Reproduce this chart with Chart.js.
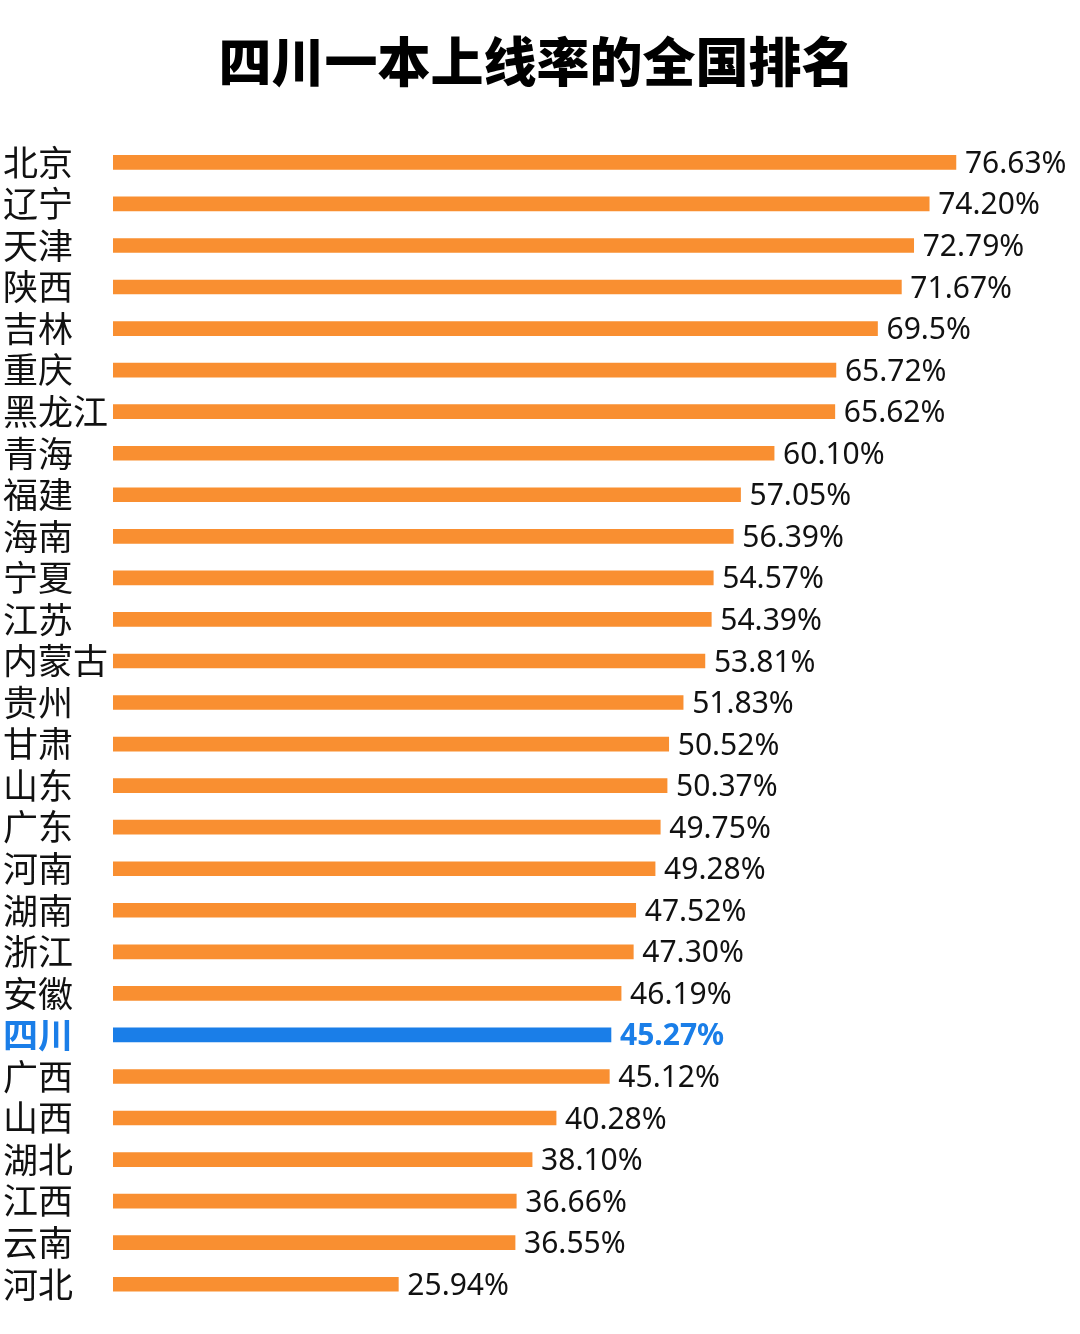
<!DOCTYPE html>
<html>
<head>
<meta charset="utf-8">
<script src="https://cdn.jsdelivr.net/npm/chart.js@4/dist/chart.umd.min.js"></script>
<style>
  html, body { margin: 0; padding: 0; background: #fff; }
  #wrap { width: 1080px; height: 1334px; position: relative; }
</style>
</head>
<body>
<div id="wrap"><canvas id="chart"></canvas></div>
<script>
// ===== dados =====
const provinces = ["北京", "辽宁", "天津", "陕西", "吉林", "重庆", "黑龙江", "青海", "福建", "海南",
  "宁夏", "江苏", "内蒙古", "贵州", "甘肃", "山东", "广东", "河南", "湖南", "浙江",
  "安徽", "四川", "广西", "山西", "湖北", "江西", "云南", "河北"];
const rates = [76.63, 74.20, 72.79, 71.67, 69.5, 65.72, 65.62, 60.10, 57.05, 56.39,
  54.57, 54.39, 53.81, 51.83, 50.52, 50.37, 49.75, 49.28, 47.52, 47.30,
  46.19, 45.27, 45.12, 40.28, 38.10, 36.66, 36.55, 25.94];
const rateLabels = ["76.63%", "74.20%", "72.79%", "71.67%", "69.5%", "65.72%", "65.62%", "60.10%", "57.05%", "56.39%",
  "54.57%", "54.39%", "53.81%", "51.83%", "50.52%", "50.37%", "49.75%", "49.28%", "47.52%", "47.30%",
  "46.19%", "45.27%", "45.12%", "40.28%", "38.10%", "36.66%", "36.55%", "25.94%"];
const highlight = "四川";

const ORANGE = "#F98F31";
const BLUE = "#1A7EE8";
const isHi = (i) => provinces[i] === highlight;

// rótulos de valor no fim de cada barra
const valueLabels = {
  id: "valueLabels",
  afterDatasetsDraw(chart) {
    const ctx = chart.ctx;
    const meta = chart.getDatasetMeta(0);
    ctx.save();
    ctx.textBaseline = "middle";
    ctx.textAlign = "left";
    meta.data.forEach((bar, i) => {
      ctx.fillStyle = isHi(i) ? BLUE : "#111";
      ctx.font = (isHi(i) ? "bold " : "") + "30px 'Noto Sans', sans-serif";
      ctx.fillText(rateLabels[i], bar.x + 9, bar.y + 2);
    });
    ctx.restore();
  }
};

new Chart(document.getElementById("chart"), {
  type: "bar",
  data: {
    labels: provinces,
    datasets: [{
      data: rates,
      backgroundColor: provinces.map((p, i) => isHi(i) ? BLUE : ORANGE),
      barThickness: 14,
      borderWidth: 0
    }]
  },
  options: {
    indexAxis: "y",
    responsive: true,
    maintainAspectRatio: false,
    animation: false,
    layout: { padding: { left: 3, right: 10, top: 0, bottom: 29 } },
    plugins: {
      legend: { display: false },
      tooltip: { enabled: false },
      title: {
        display: true,
        text: "四川一本上线率的全国排名",
        color: "#000",
        font: { family: "'Noto Sans CJK SC', sans-serif", size: 53, weight: "900", lineHeight: 1.2 },
        padding: { top: 30, bottom: 48 }
      }
    },
    scales: {
      x: {
        display: false,
        min: 0,
        max: 87
      },
      y: {
        grid: { display: false },
        border: { display: false },
        afterFit: (scale) => { scale.width = 110; },
        ticks: {
          autoSkip: false,
          crossAlign: "far",
          padding: 0,
          color: (c) => isHi(c.index) ? BLUE : "#111",
          font: (c) => ({
            family: "'Noto Sans CJK SC', sans-serif",
            size: 35,
            weight: isHi(c.index) ? "bold" : "normal"
          })
        }
      }
    }
  },
  plugins: [valueLabels]
});
</script>
</body>
</html>
